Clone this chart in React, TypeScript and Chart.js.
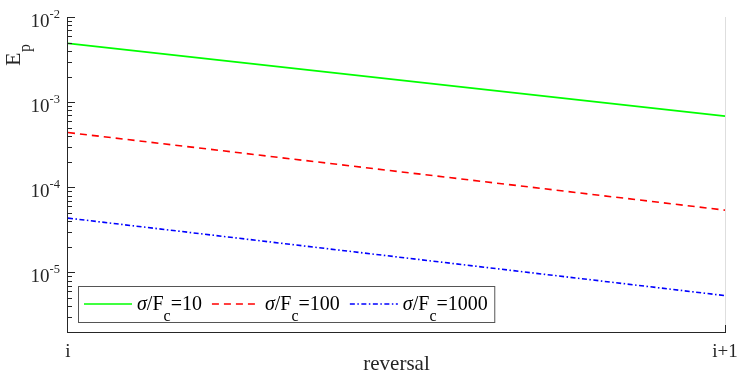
import React, { useEffect, useRef } from "react";
import { Chart, registerables } from "chart.js";
Chart.register(...registerables);

const categories = ["i", "i+1"];
const seriesRatios = ["10", "100", "1000"];
const greenValues = [4.9e-3, 6.85e-4];
const redValues = [4.4e-4, 5.4e-5];
const blueValues = [4.35e-5, 5.35e-6];
const yMin = 2e-6;
const yMax = 1e-2;
const majorTickExponents = [-5, -4, -3, -2];
const minorMultipliers = [1, 2, 3, 4, 5, 6, 7, 8, 9];
const decades = [-6, -5, -4, -3, -2];
const xTitle = "reversal";

const SERIF = '"Liberation Serif", "Times New Roman", serif';
const AXIS = "#262626";

const colors = ["#00ff00", "#ff0000", "#0000ff"];
const dashes: number[][] = [[], [7, 5], [5, 2.5, 1.5, 2.5]];

const axesPlugin = {
  id: "matlabAxes",
  afterDraw(chart: any) {
    const { ctx, chartArea: a, scales } = chart;
    const y = scales.y;
    const x = scales.x;
    ctx.save();
    ctx.setLineDash([]);
    const Lx = Math.round(a.left) - 1;
    const Bx = Math.round(a.bottom);
    const Rx = Math.round(a.right);
    const Tx = Math.round(a.top);

    ctx.fillStyle = "#dedede";
    ctx.fillRect(Rx, Tx, 1, Bx - Tx);

    ctx.fillStyle = AXIS;
    ctx.fillRect(Lx, Tx, 1, Bx - Tx + 1);
    ctx.fillRect(Lx, Bx, Rx - Lx + 1, 1);

    decades.forEach((k) => {
      minorMultipliers.forEach((m) => {
        const v = m * Math.pow(10, k);
        if (v < yMin * 0.999 || v > yMax * 1.001) return;
        const py = Math.round(y.getPixelForValue(v));
        const len = m === 1 ? 7 : 4;
        ctx.fillRect(Lx, Math.min(py, Bx), len + 1, 1);
      });
    });
    categories.forEach((_, i) => {
      const px = Math.round(x.getPixelForValue(i)) - (i === 0 ? 1 : 0);
      ctx.fillRect(px, Bx - 7, 1, 8);
    });

    ctx.fillStyle = "#262626";
    ctx.textBaseline = "alphabetic";
    majorTickExponents.forEach((e) => {
      const py = y.getPixelForValue(Math.pow(10, e));
      const right = a.left - 8;
      ctx.font = `12.5px ${SERIF}`;
      const expText = String(e);
      const ew = ctx.measureText(expText).width;
      ctx.textAlign = "left";
      ctx.fillText(expText, right - ew, py + 0.5);
      ctx.font = `19px ${SERIF}`;
      ctx.textAlign = "right";
      ctx.fillText("10", right - ew, py + 9.5);
    });

    ctx.font = `19px ${SERIF}`;
    ctx.textAlign = "center";
    categories.forEach((c, i) => {
      const px = x.getPixelForValue(i);
      ctx.fillText(c, px, a.bottom + 25);
    });

    ctx.font = `21px ${SERIF}`;
    ctx.fillText(xTitle, (a.left + a.right) / 2, a.bottom + 38);

    ctx.save();
    ctx.translate(20, 66);
    ctx.rotate(-Math.PI / 2);
    ctx.textAlign = "left";
    ctx.font = `22px ${SERIF}`;
    ctx.fillText("E", 0, 0);
    const Ew = ctx.measureText("E").width;
    ctx.font = `16px ${SERIF}`;
    ctx.fillText("p", Ew + 0.5, 10);
    ctx.restore();

    const boxLeft = 78.5;
    const boxTop = 286.5;
    const boxH = 36;
    const lineY = 304;
    const baseY = 310;
    const subY = 321;
    const mainFont = `20px ${SERIF}`;
    const italicFont = `italic 20px ${SERIF}`;
    const subFont = `16px ${SERIF}`;

    const measure = (val: string) => {
      ctx.font = italicFont;
      const w1 = ctx.measureText("\u03C3").width;
      ctx.font = mainFont;
      const w2 = ctx.measureText("/F").width;
      ctx.font = subFont;
      const w3 = ctx.measureText("c").width;
      ctx.font = mainFont;
      const w4 = ctx.measureText("=" + val).width;
      return { w1, w2, w3, w4, total: w1 + w2 + w3 + w4 };
    };
    const ms = seriesRatios.map(measure);
    let x0 = boxLeft + 5.5;
    const starts: number[] = [];
    ms.forEach((m) => {
      starts.push(x0);
      x0 = x0 + 53 + m.total + 10;
    });
    const boxRight = x0 - 10 + 7;

    ctx.fillStyle = "#ffffff";
    ctx.fillRect(boxLeft, boxTop, boxRight - boxLeft, boxH);
    ctx.strokeStyle = "#555555";
    ctx.lineWidth = 1;
    ctx.strokeRect(boxLeft, boxTop, boxRight - boxLeft, boxH);

    seriesRatios.forEach((val, i) => {
      const sx = starts[i];
      ctx.strokeStyle = colors[i];
      ctx.lineWidth = 1.6;
      ctx.setLineDash(dashes[i]);
      ctx.beginPath();
      ctx.moveTo(sx, lineY);
      ctx.lineTo(sx + 48, lineY);
      ctx.stroke();
      ctx.setLineDash([]);

      const m = ms[i];
      let tx = sx + 53;
      ctx.fillStyle = "#000000";
      ctx.textAlign = "left";
      ctx.textBaseline = "alphabetic";
      ctx.font = italicFont;
      ctx.fillText("\u03C3", tx, baseY);
      tx += m.w1;
      ctx.font = mainFont;
      ctx.fillText("/F", tx, baseY);
      tx += m.w2;
      ctx.font = subFont;
      ctx.fillText("c", tx, subY);
      tx += m.w3;
      ctx.font = mainFont;
      ctx.fillText("=" + val, tx, baseY);
    });
    ctx.restore();
  },
};

export default function App() {
  const ref = useRef<HTMLCanvasElement>(null);
  useEffect(() => {
    if (!ref.current) return;
    const chart = new Chart(ref.current, {
      type: "line",
      data: {
        labels: categories,
        datasets: [greenValues, redValues, blueValues].map((d, i) => ({
          label: "\u03C3/Fc=" + seriesRatios[i],
          data: d,
          borderColor: colors[i],
          backgroundColor: colors[i],
          borderWidth: 1.6,
          borderDash: dashes[i],
          pointRadius: 0,
          tension: 0,
          fill: false,
        })),
      },
      options: {
        responsive: false,
        animation: false,
        devicePixelRatio: 1,
        layout: { padding: { left: 68, right: 22, top: 17, bottom: 44 } },
        plugins: { legend: { display: false }, tooltip: { enabled: false } },
        scales: {
          x: { type: "category", display: false, offset: false },
          y: { type: "logarithmic", display: false, min: yMin, max: yMax },
        },
      },
      plugins: [axesPlugin],
    });
    return () => chart.destroy();
  }, []);
  return (
    <div style={{ position: "fixed", left: 0, top: 0, width: 747, height: 376, background: "#fff" }}>
      <canvas ref={ref} width={747} height={376} style={{ width: 747, height: 376 }} />
    </div>
  );
}
